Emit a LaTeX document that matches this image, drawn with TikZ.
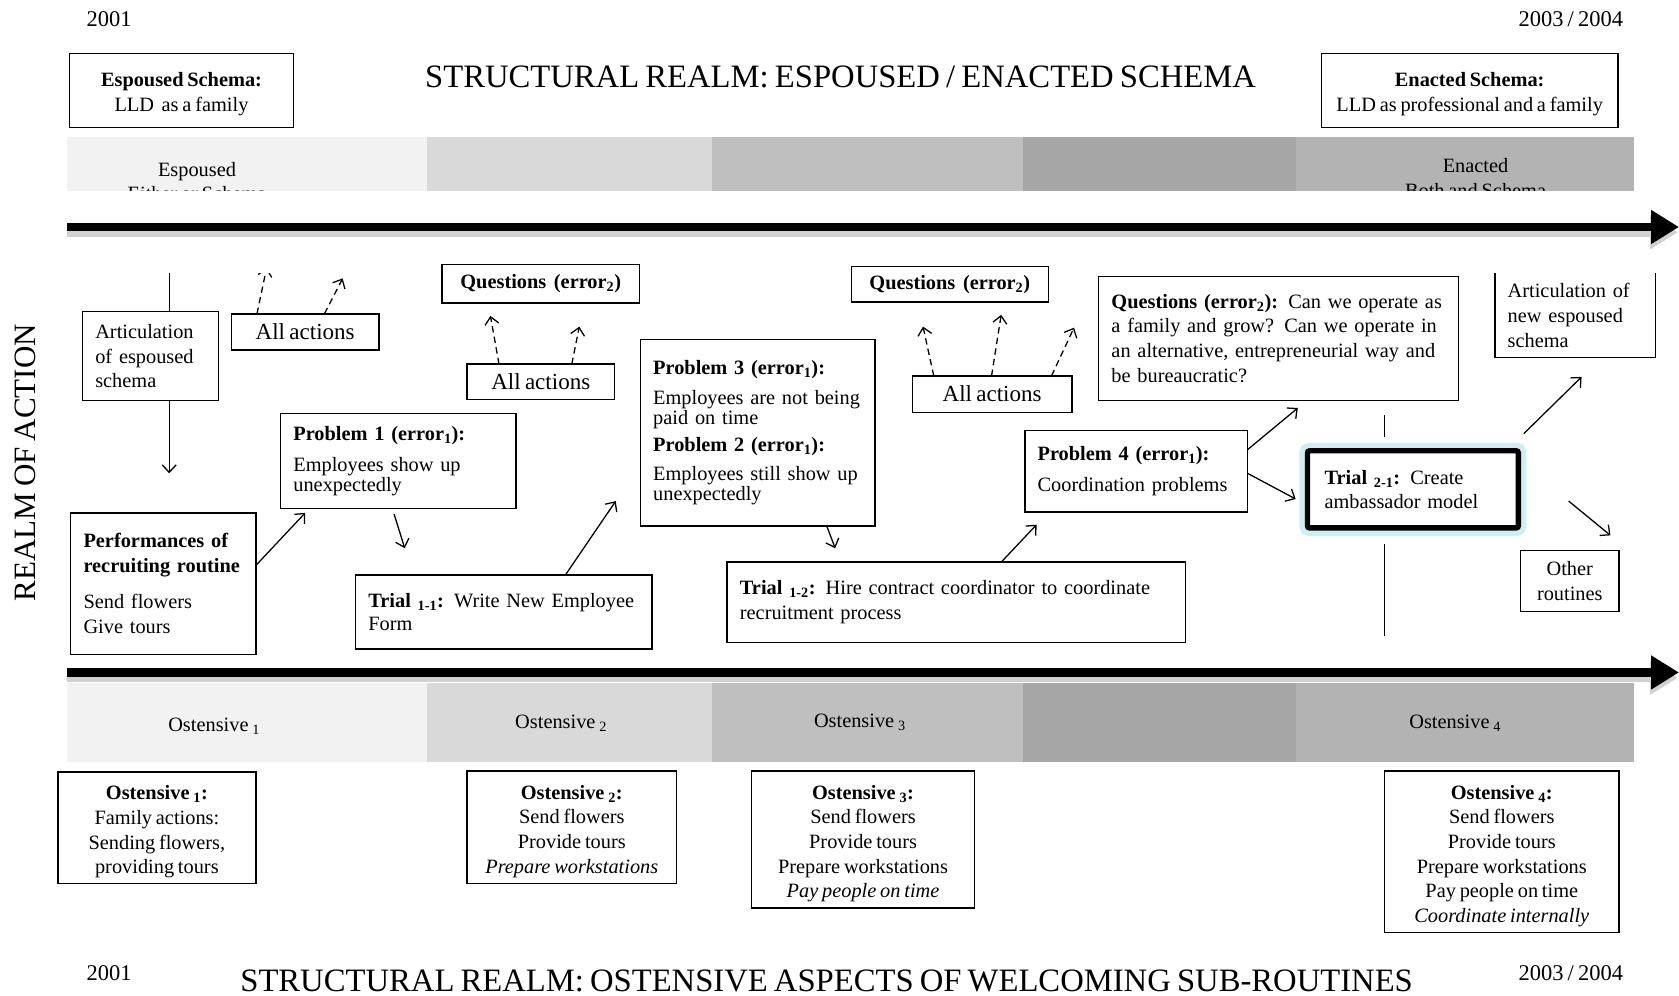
\documentclass[tikz,border=0pt]{standalone}
\usepackage{fontspec}
\setmainfont{Liberation Serif}[WordSpace=0.75]
\usetikzlibrary{arrows.meta}

\definecolor{bandA}{HTML}{F2F2F2}
\definecolor{bandB}{HTML}{D9D9D9}
\definecolor{bandC}{HTML}{BFBFBF}
\definecolor{bandD}{HTML}{A6A6A6}
\definecolor{bandE}{HTML}{B3B3B3}
\definecolor{glow}{HTML}{CDEEF3}

\newcommand{\boxfont}{\fontsize{19}{23}\selectfont\hyphenpenalty=10000}
\newcommand{\actfont}{\fontsize{21.5}{25}\selectfont}
\newcommand{\yearfont}{\fontsize{21}{25}\selectfont}
\newcommand{\titlefont}{\fontsize{30.5}{36}\selectfont}
\newcommand{\realmfont}{\fontsize{29}{34}\selectfont}
\newcommand{\lowstrut}[1]{\rule{0pt}{#1}}

\tikzset{
  box/.style={draw, line width=1.4pt, fill=white, font=\boxfont, inner xsep=12pt, inner ysep=4pt, outer sep=0pt},
  lbox/.style={box, align=left},
  cbox/.style={box, align=center},
  arr/.style={line width=1.2pt, -{Straight Barb[length=7pt,width=13pt]}},
  darr/.style={arr, dash pattern=on 6pt off 4pt},
  timeline/.style={line width=8pt, -{Triangle[length=26pt,width=30pt]}},
}

\begin{document}
\begin{tikzpicture}[x=1pt, y=-1pt]
    \useasboundingbox (0,0) rectangle (1568,930);

    \node[font=\yearfont] (yearTL) at (102,18) {2001};
    \node[font=\yearfont] (yearTR) at (1467,18) {2003 / 2004};
    \node[font=\titlefont] (titleTop) at (785,72) {STRUCTURAL REALM: ESPOUSED / ENACTED SCHEMA};
    \node[font=\yearfont] (yearBL) at (102,909) {2001};
    \node[font=\yearfont] (yearBR) at (1467,909) {2003 / 2004};
    \node[font=\titlefont] (titleBot) at (772,916) {STRUCTURAL REALM: OSTENSIVE ASPECTS OF WELCOMING SUB-ROUTINES};
    \node[rotate=90, font=\realmfont] (realm) at (24,432) {REALM OF ACTION};

    \node[cbox, minimum width=209pt, minimum height=69pt] (espSchema) at (169.5,84.5) {\lowstrut{19.5pt}\textbf{Espoused Schema:}\\LLD\ \ as a family};
    \node[cbox, minimum width=277pt, minimum height=69pt] (enaSchema) at (1372.5,84.5) {\lowstrut{19.5pt}\textbf{Enacted Schema:}\\LLD as professional and a family};

    \fill[bandA] (63,128) rectangle (399,178);
    \fill[bandB] (399,128) rectangle (665,178);
    \fill[bandC] (665,128) rectangle (955,178);
    \fill[bandD] (955,128) rectangle (1210,178);
    \fill[bandE] (1210,128) rectangle (1526,178);
    \begin{scope}
        \clip (63,128) rectangle (1526,178);
        \node[font=\boxfont, align=center] (espBand) at (184,169.5) {Espoused\\Either or Schema};
        \node[font=\boxfont, align=center] (enaBand) at (1378,166.5) {Enacted\\Both and Schema};
    \end{scope}

    \fill[bandA] (63,638) rectangle (399,712);
    \fill[bandB] (399,638) rectangle (665,712);
    \fill[bandC] (665,638) rectangle (955,712);
    \fill[bandD] (955,638) rectangle (1210,712);
    \fill[bandE] (1210,638) rectangle (1526,712);
    \node[font=\boxfont] (ostBand1) at (200,678) {Ostensive \textsubscript{1}};
    \node[font=\boxfont] (ostBand2) at (524,675) {Ostensive \textsubscript{2}};
    \node[font=\boxfont] (ostBand3) at (803,675) {Ostensive \textsubscript{3}};
    \node[font=\boxfont] (ostBand4) at (1359,675) {Ostensive \textsubscript{4}};

    \draw[timeline, black!18] (63,217) -- (1567,217);
    \draw[timeline] (63,212) -- (1568,212);
    \draw[timeline, black!18] (63,633) -- (1567,633);
    \draw[timeline] (63,628) -- (1568,628);

    \node[lbox, minimum width=127pt, minimum height=83pt, text width=103pt] (artic) at (140.5,332.5) {Articulation\\of espoused\\schema};
    \node[cbox, font=\actfont, minimum width=138pt, minimum height=34pt] (all1) at (285,310) {All actions};
    \node[cbox, minimum width=184pt, minimum height=36pt] (quest1) at (505,265) {\textbf{Questions\ \ (error\textsubscript{2})}};
    \node[cbox, font=\actfont, minimum width=138pt, minimum height=33pt] (all2) at (505,356.5) {All actions};
    \node[lbox, minimum width=220pt, minimum height=89pt, text width=196pt] (prob1) at (372,430.5) {\textbf{Problem 1 (error\textsubscript{1}):}\\[6pt]Employees show up\\[-5pt]unexpectedly};
    \node[lbox, minimum width=173pt, minimum height=132pt, text width=149pt] (perf) at (152.5,545) {\textbf{Performances of}\\\textbf{recruiting routine}\\[11pt]Send flowers\\Give tours};
    \node[lbox, minimum width=277pt, minimum height=69pt, text width=253pt] (trial11) at (470.5,571.5) {\textbf{Trial \textsubscript{1-1}:} Write New Employee\\[-2pt]Form};
    \node[lbox, minimum width=219pt, minimum height=174pt, text width=195pt] (prob3) at (707.5,404) {\textbf{Problem 3 (error\textsubscript{1}):}\\[5pt]Employees are not being\\[-5pt]paid on time\\[3pt]\textbf{Problem 2 (error\textsubscript{1}):}\\[4pt]Employees still show up\\[-5pt]unexpectedly};
    \node[cbox, minimum width=184pt, minimum height=33pt] (quest2) at (887,265.5) {\textbf{Questions\ \ (error\textsubscript{2})}};
    \node[cbox, font=\actfont, minimum width=149pt, minimum height=34pt] (all3) at (926.5,368) {All actions};
    \node[lbox, minimum width=428pt, minimum height=75pt, text width=404pt] (trial12) at (893,562.5) {\textbf{Trial \textsubscript{1-2}:} Hire contract coordinator to coordinate\\recruitment process};
    \node[lbox, minimum width=336pt, minimum height=116pt, text width=312pt] (quest3) at (1194,316) {\textbf{Questions (error\textsubscript{2}):} Can we operate as\\a family and grow? Can we operate in\\an alternative, entrepreneurial way and\\be bureaucratic?};
    \node[lbox, minimum width=208pt, minimum height=76pt, text width=184pt] (prob4) at (1061,440) {\textbf{Problem 4 (error\textsubscript{1}):}\\[6pt]Coordination problems};
    \node[lbox, line width=5pt, rounded corners=2pt, preaction={draw=glow, line width=15pt, rounded corners=4pt}, minimum width=197pt, minimum height=72pt, inner xsep=16pt, text width=165pt] (trial21) at (1319.5,457) {\textbf{Trial \textsubscript{2-1}:} Create\\ambassador model};
    \node[lbox, draw=none, minimum width=150pt, minimum height=79pt, text width=126pt] (articNew) at (1471,294.5) {Articulation of\\new espoused\\schema};
    \draw[line width=1.4pt] (articNew.north west) -- (articNew.south west) -- (articNew.south east) -- (articNew.north east);
    \node[cbox, minimum width=92pt, minimum height=57pt] (other) at (1466,542.5) {Other\\routines};

    \node[cbox, minimum width=185pt, minimum height=104pt] (ost1) at (146.5,773) {\lowstrut{21pt}\textbf{Ostensive \textsubscript{1}:}\\Family actions:\\Sending flowers,\\providing tours};
    \node[cbox, minimum width=196pt, minimum height=105pt] (ost2) at (534,772.5) {\lowstrut{21pt}\textbf{Ostensive \textsubscript{2}:}\\Send flowers\\Provide tours\\\textit{Prepare workstations}};
    \node[cbox, minimum width=208pt, minimum height=128pt] (ost3) at (806,784) {\lowstrut{21pt}\textbf{Ostensive \textsubscript{3}:}\\Send flowers\\Provide tours\\Prepare workstations\\\textit{Pay people on time}};
    \node[cbox, minimum width=219pt, minimum height=151pt] (ost4) at (1402.5,795.5) {\lowstrut{21pt}\textbf{Ostensive \textsubscript{4}:}\\Send flowers\\Provide tours\\Prepare workstations\\Pay people on time\\\textit{Coordinate internally}};

    \coordinate (articTop) at (158,255);
    \coordinate (articEnd) at (158,442);
    \draw[line width=1.2pt] (articTop) -- (articTop |- artic.north);
    \draw[arr] (articTop |- artic.south) -- (articEnd);

    \coordinate (all1a) at (249,250);
    \coordinate (all1b) at (320,260);
    \begin{scope}
        \clip (200,255) rectangle (360,300);
        \draw[darr] ([xshift=-45pt]all1.north) -- (all1a);
    \end{scope}
    \draw[darr] ([xshift=18pt]all1.north) -- (all1b);

    \coordinate (all2a) at (458,295);
    \coordinate (all2b) at (541,305);
    \draw[darr] ([xshift=-39pt]all2.north) -- (all2a);
    \draw[darr] ([xshift=29pt]all2.north) -- (all2b);

    \coordinate (all3a) at (862,305);
    \coordinate (all3b) at (935,294);
    \coordinate (all3c) at (1003,306);
    \draw[darr] ([xshift=-54.5pt]all3.north) -- (all3a);
    \draw[darr] ([xshift=-0.5pt]all3.north) -- (all3b);
    \draw[darr] ([xshift=55.5pt]all3.north) -- (all3c);

    \coordinate (prob1In) at (285,479);
    \coordinate (trial11In) at (378,512);
    \coordinate (prob3In) at (575,468);
    \coordinate (trial12In) at (780,512);
    \coordinate (prob4In) at (968,490);
    \coordinate (quest3In) at (1212,381);
    \coordinate (trial21In) at (1210,466);
    \coordinate (articNewIn) at (1477,352);
    \coordinate (otherIn) at (1504,500);
    \draw[arr] ([yshift=17pt]perf.east) -- (prob1In);
    \draw[arr] ([xshift=-4pt,yshift=-5pt]prob1.south) -- (trial11In);
    \draw[arr] ([xshift=57.5pt]trial11.north) -- (prob3In);
    \draw[arr] ([xshift=64.5pt]prob3.south) -- (trial12In);
    \draw[arr] ([xshift=42pt]trial12.north) -- (prob4In);
    \draw[arr] ([yshift=20pt]prob4.east) -- (quest3In);
    \draw[arr] ([yshift=-2pt]prob4.east) -- (trial21In);
    \draw[arr] ([xshift=5pt,yshift=16pt]trial21.north east) -- (articNewIn);
    \draw[arr] ([xshift=47pt,yshift=-11pt]trial21.east) -- (otherIn);

    \draw[line width=1.2pt] ([xshift=-26.5pt,yshift=33pt]trial21.north) -- ++(0,20);
    \draw[line width=1.2pt] ([xshift=-26.5pt,yshift=-15pt]trial21.south) -- ++(0,86);
\end{tikzpicture}
\end{document}
